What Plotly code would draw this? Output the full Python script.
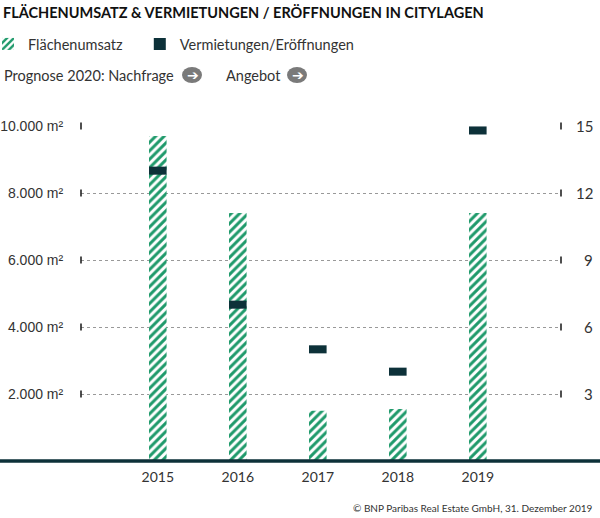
import plotly.graph_objects as go

years = [2015, 2016, 2017, 2018, 2019]
flaechenumsatz = [9700, 7400, 1500, 1550, 7400]          # m²
vermietungen = [13, 7, 5, 4, 14.8]                       # Anzahl

left_ticks = [2000, 4000, 6000, 8000, 10000]
left_labels = ["2.000 m²", "4.000 m²", "6.000 m²", "8.000 m²", "10.000 m²"]
right_ticks = [3, 6, 9, 12, 15]
right_labels = ["3", "6", "9", "12", "15"]

GREEN = "#1f9a6b"
DARK = "#0d3139"
GRAY = "#7a7a7a"
TXT = "#333333"
FONT = "Lato"

W, H = 600, 518
L, R, T, B = 81, 39, 126, 57
PW, PH = W - L - R, H - T - B

def px(x):
    return (x - L) / PW

def py(y):
    return (H - B - y) / PH

bar_w = 0.22
mark_h = 0.36

fig = go.Figure()
fig.add_trace(go.Bar(
    x=years, y=flaechenumsatz, width=bar_w, name="Flächenumsatz",
    marker=dict(color="white", line=dict(width=0),
                pattern=dict(shape="/", fgcolor=GREEN, bgcolor="white",
                             size=6, solidity=0.5, fillmode="replace")),
    legend="legend", yaxis="y"))
fig.add_trace(go.Bar(
    x=years, y=[mark_h] * len(vermietungen),
    base=[v - mark_h / 2 for v in vermietungen], width=bar_w,
    name="Vermietungen/Eröffnungen", marker=dict(color=DARK, line=dict(width=0)),
    legend="legend2", yaxis="y2"))
# small tick marks at ends of grid lines
for xv in (2014.04, 2020.04):
    fig.add_trace(go.Scatter(
        x=[xv] * len(left_ticks), y=left_ticks, mode="markers",
        marker=dict(symbol="line-ns", size=5, line=dict(width=1.6, color="#222")),
        showlegend=False, hoverinfo="skip", cliponaxis=False, yaxis="y"))

clear = "rgba(0,0,0,0)"
fig.update_layout(
    width=W, height=H, margin=dict(l=L, r=R, t=T, b=B, autoexpand=False),
    paper_bgcolor="white", plot_bgcolor="white",
    barmode="overlay", showlegend=True,
    font=dict(family=FONT, color=TXT, size=14.5),
    xaxis=dict(range=[2014.04, 2020.04], tickvals=years, ticktext=[str(y) for y in years],
               showgrid=False, zeroline=False, showline=False,
               ticks="outside", ticklen=3, tickcolor=clear,
               tickfont=dict(family=FONT, size=14, color=TXT)),
    yaxis=dict(range=[0, 10000], tickvals=left_ticks, ticktext=left_labels,
               showgrid=True, gridcolor="#999999", griddash="dot", gridwidth=1,
               zeroline=False, showline=False,
               ticks="outside", ticklen=14, tickcolor=clear,
               tickfont=dict(family="Liberation Sans", size=14, color=TXT)),
    yaxis2=dict(range=[0, 15], overlaying="y", side="right", tickvals=right_ticks,
                showticklabels=False, showgrid=False, zeroline=False, showline=False,
                ticks=""),
    legend=dict(orientation="h", xref="paper", yref="container", x=px(-12), y=1 - 44 / H,
                yanchor="middle", xanchor="left", itemwidth=30,
                font=dict(family=FONT, size=14.5, color=TXT), bgcolor=clear),
    legend2=dict(orientation="h", xref="container", yref="container", x=0.233, y=1 - 44 / H,
                 yanchor="middle", xanchor="left", itemwidth=30,
                 font=dict(family=FONT, size=14.5, color=TXT), bgcolor=clear),
    title=dict(text="<b>FLÄCHENUMSATZ & VERMIETUNGEN / ERÖFFNUNGEN IN CITYLAGEN</b>",
               xref="container", yref="container", x=0.005, y=1 - 13 / H,
               xanchor="left", yanchor="middle",
               font=dict(family=FONT, size=14.5, color="#111111")),
)

shapes = [
    dict(type="line", xref="paper", yref="paper", x0=px(0), x1=px(W), y0=0, y1=0,
         line=dict(color=DARK, width=3.5), layer="above"),
    dict(type="circle", xref="paper", yref="paper", x0=px(182), x1=px(202),
         y0=py(83), y1=py(67), fillcolor=GRAY, line=dict(width=0)),
    dict(type="circle", xref="paper", yref="paper", x0=px(287), x1=px(307),
         y0=py(83), y1=py(67), fillcolor=GRAY, line=dict(width=0)),
]
annotations = [
    dict(text="Prognose 2020: Nachfrage", xref="paper", yref="paper", x=px(2), y=py(75),
         xanchor="left", yanchor="middle", showarrow=False,
         font=dict(family=FONT, size=14.5, color=TXT)),
    dict(text="Angebot", xref="paper", yref="paper", x=px(224), y=py(75),
         xanchor="left", yanchor="middle", showarrow=False,
         font=dict(family=FONT, size=14.5, color=TXT)),
    dict(text="<b>➔</b>", xref="paper", yref="paper", x=px(192.5), y=py(75),
         xanchor="center", yanchor="middle", showarrow=False,
         font=dict(family="DejaVu Sans", size=14, color="white")),
    dict(text="<b>➔</b>", xref="paper", yref="paper", x=px(297.5), y=py(75),
         xanchor="center", yanchor="middle", showarrow=False,
         font=dict(family="DejaVu Sans", size=14, color="white")),
    dict(text="© BNP Paribas Real Estate GmbH, 31. Dezember 2019", xref="paper", yref="paper",
         x=px(595), y=py(508), xanchor="right", yanchor="middle", showarrow=False,
         font=dict(family=FONT, size=10, color=TXT)),
]
for v, lab in zip(right_ticks, right_labels):
    annotations.append(dict(text=lab, xref="paper", yref="y2", x=px(595), y=v,
                            xanchor="right", yanchor="middle", showarrow=False,
                            font=dict(family=FONT, size=15, color=TXT)))
fig.update_layout(shapes=shapes, annotations=annotations)

fig.write_html("out.html", config={"displayModeBar": False},
               post_script="document.body.style.margin='0px';")
